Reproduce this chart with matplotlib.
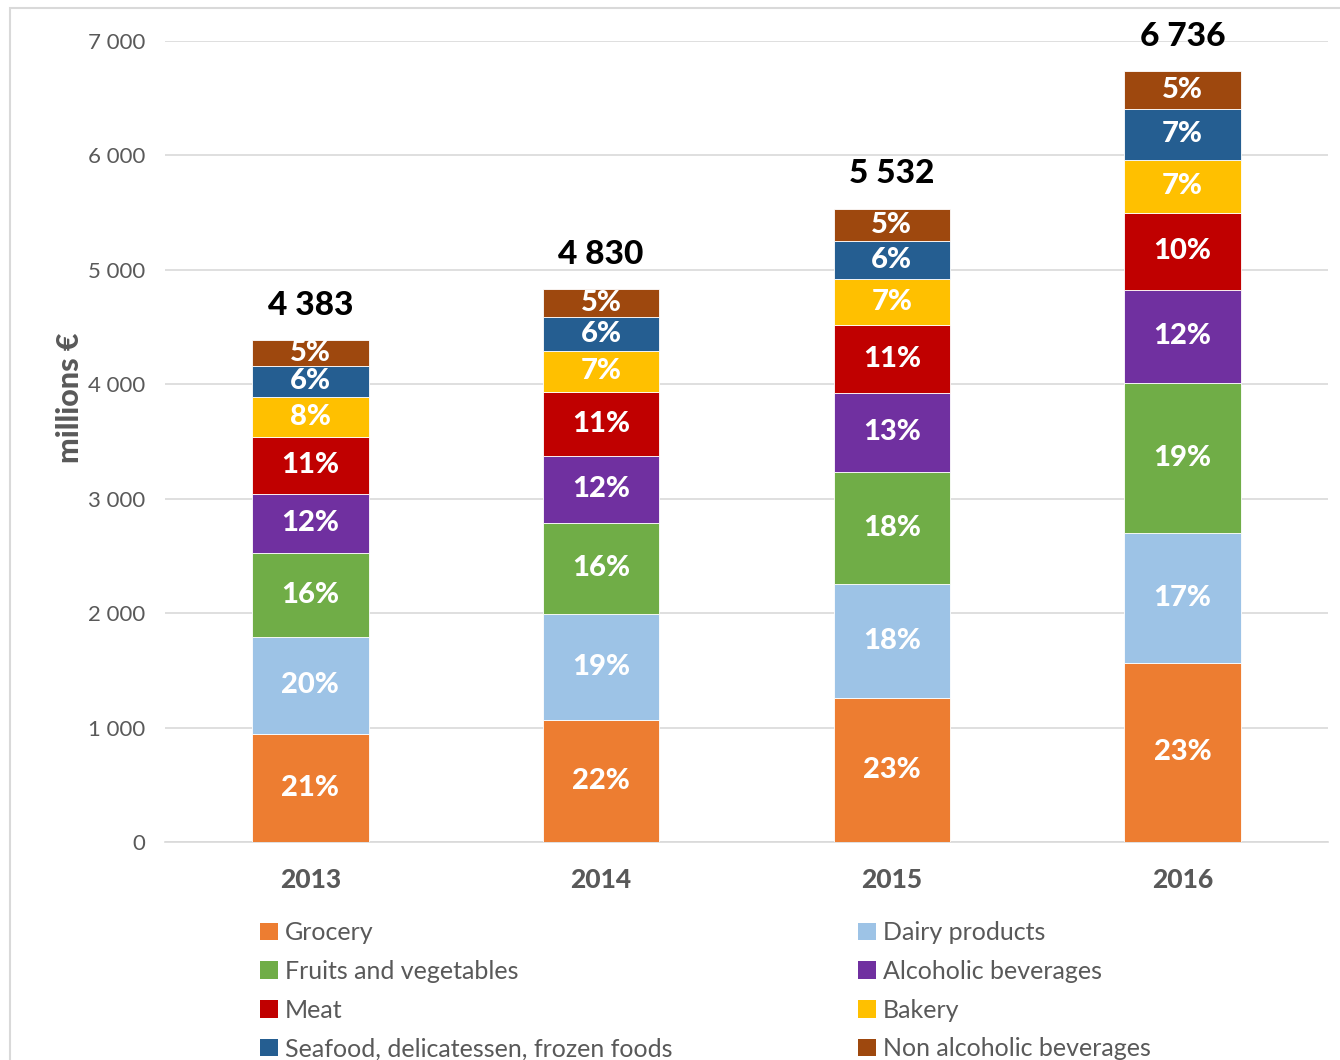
import matplotlib
matplotlib.use("Agg")
import matplotlib.pyplot as plt
from matplotlib.patches import Rectangle, Patch
import numpy as np

plt.rcParams['font.family'] = ['Lato', 'DejaVu Sans']

years = ["2013", "2014", "2015", "2016"]
totals = [4383, 4830, 5532, 6736]
total_labels = ["4 383", "4 830", "5 532", "6 736"]

categories = ["Grocery", "Dairy products", "Fruits and vegetables", "Alcoholic beverages",
              "Meat", "Bakery", "Seafood, delicatessen, frozen foods", "Non alcoholic beverages"]

grocery    = [944, 1066, 1259, 1565]
dairy      = [848, 927, 996, 1136]
fruits     = [734, 795, 979, 1311]
alcoholic  = [516, 586, 691, 813]
meat       = [498, 560, 594, 673]
bakery     = [350, 358, 402, 464]
seafood    = [271, 297, 332, 445]
nonalc     = [222, 241, 279, 329]

pct_grocery   = ["21%", "22%", "23%", "23%"]
pct_dairy     = ["20%", "19%", "18%", "17%"]
pct_fruits    = ["16%", "16%", "18%", "19%"]
pct_alcoholic = ["12%", "12%", "13%", "12%"]
pct_meat      = ["11%", "11%", "11%", "10%"]
pct_bakery    = ["8%", "7%", "7%", "7%"]
pct_seafood   = ["6%", "6%", "6%", "7%"]
pct_nonalc    = ["5%", "5%", "5%", "5%"]

yticks = [0, 1000, 2000, 3000, 4000, 5000, 6000, 7000]
ytick_labels = ["0", "1 000", "2 000", "3 000", "4 000", "5 000", "6 000", "7 000"]

series = [grocery, dairy, fruits, alcoholic, meat, bakery, seafood, nonalc]
pcts = [pct_grocery, pct_dairy, pct_fruits, pct_alcoholic, pct_meat, pct_bakery, pct_seafood, pct_nonalc]
colors = ["#ED7D31", "#9DC3E6", "#70AD47", "#7030A0", "#C00000", "#FFC000", "#255E91", "#9E480E"]

fig = plt.figure(figsize=(13.4, 10.6), dpi=100)
ax = fig.add_axes([165/1340, 1 - 842/1060, (1328-165)/1340, (842-41)/1060])

x = np.arange(len(years))
bottom = np.zeros(len(years))
for vals, pl, col in zip(series, pcts, colors):
    vals = np.array(vals, dtype=float)
    ax.bar(x, vals, width=0.4, bottom=bottom, color=col, edgecolor="white", linewidth=0.6, zorder=3)
    for xi, b, v, t in zip(x, bottom, vals, pl):
        ax.text(xi, b + v/2, t, ha="center", va="center", color="white",
                fontsize=21, fontweight="black", zorder=4)
    bottom += vals

for xi, tot, lab in zip(x, totals, total_labels):
    ax.text(xi, tot + 180, lab, ha="center", va="bottom", color="black",
            fontsize=24, fontweight="black", zorder=4)

ax.set_xlim(-0.5, 3.5)
ax.set_ylim(0, 7000)
ax.set_yticks(yticks)
ax.set_yticklabels(ytick_labels, fontsize=16, color="#595959")
ax.set_xticks(x)
ax.set_xticklabels(years, fontsize=19, fontweight="black", color="#595959")
ax.tick_params(axis="both", length=0)
ax.tick_params(axis="y", pad=14)
ax.tick_params(axis="x", pad=19)
ax.yaxis.grid(True, color="#D9D9D9", linewidth=1.2, zorder=0)
ax.set_axisbelow(True)
for s in ["top", "right", "left"]:
    ax.spines[s].set_visible(False)
ax.spines["bottom"].set_color("#D9D9D9")
ax.spines["bottom"].set_linewidth(1.2)

fig.text(70/1340, 1 - 398/1060, "millions €", rotation=90, ha="center", va="center",
         fontsize=22, fontweight="black", color="#595959")

# outer border
fig.patches.append(Rectangle((10/1340, -0.1), 1.2, 1 - 8/1060 + 0.1, transform=fig.transFigure,
                             fill=False, edgecolor="#D9D9D9", linewidth=1.5))

col1 = [0, 2, 4, 6]
col2 = [1, 3, 5, 7]
for idxs, xpos in [(col1, 260/1340), (col2, 858/1340)]:
    handles = [Patch(facecolor=colors[i], edgecolor="none") for i in idxs]
    labels = [categories[i] for i in idxs]
    leg = fig.legend(handles, labels, loc="upper left", bbox_to_anchor=(xpos, 1 - 921/1060),
                     frameon=False, fontsize=18, labelcolor="#595959",
                     handlelength=0.7, handleheight=0.7, handletextpad=0.3,
                     labelspacing=0.63, borderaxespad=0, borderpad=0)

fig.savefig("out.png", dpi=100)
